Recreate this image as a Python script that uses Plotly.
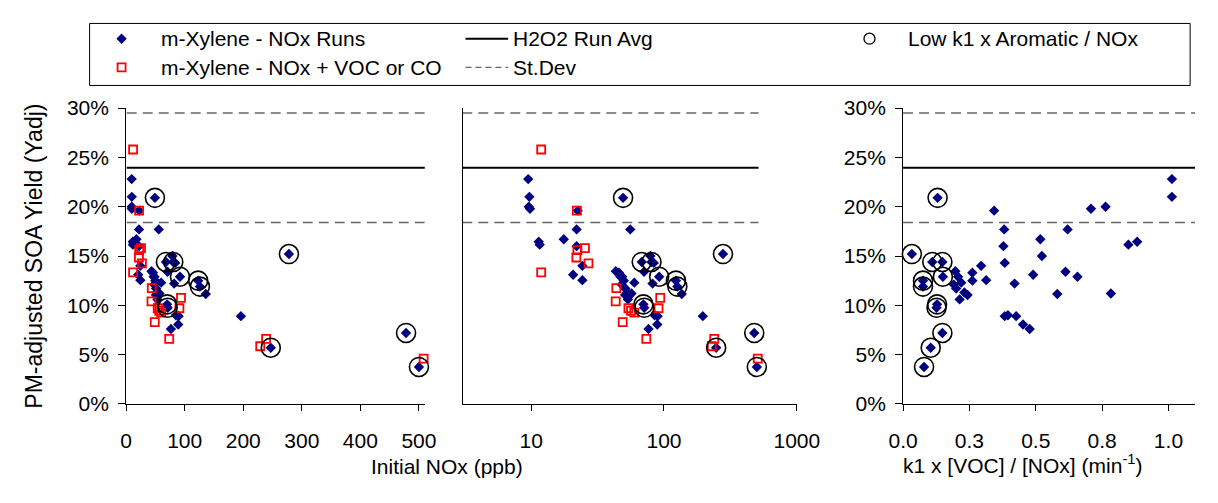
import plotly.graph_objects as go

# ---------------------------------------------------------------------------
# m-Xylene - NOx runs: initial NOx (ppb), PM-adjusted SOA yield (%),
# k1 x [VOC]/[NOx] (min^-1) and whether the run has a low k1 x aromatic/NOx
# ---------------------------------------------------------------------------
run_nox = [9.5, 9.7, 9.6, 9.8, 22.4, 22.0, 55.7, 17.6, 11.4, 11.6, 22.0, 79.0,
           83.8, 24.3, 20.7, 70.8, 24.3, 43.4, 45.8, 47.0, 48.5, 49.9, 47.9, 59.8,
           82.0, 51.2, 52.7, 51.0, 53.5, 136.0, 57.0, 85.0, 89.6, 196.0, 89.0, 76.5,
           49.2, 278.0, 68.0, 80.5, 92.0, 123.0, 126.0, 70.0, 71.0, 247.0, 478.0, 500.0]
run_yield = [22.8, 21.0, 20.0, 19.8, 19.6, 17.7, 17.7, 16.7, 16.45, 16.15, 16.0, 15.0,
             14.3, 14.0, 13.1, 13.4, 12.55, 13.45, 13.3, 12.9, 12.9, 12.5, 12.1, 12.3,
             12.2, 11.7, 11.3, 11.05, 10.6, 11.15, 11.2, 9.0, 8.9, 8.9, 8.05, 7.6,
             20.9, 15.2, 14.4, 14.4, 12.9, 12.5, 11.9, 10.1, 9.75, 5.7, 7.2, 3.75]
run_k1 = [1.013, 1.013, 0.763, 0.708, 0.343, 0.381, 0.620, 0.517, 0.882, 0.849, 0.378, 0.523,
          0.383, 0.294, 0.49, 0.612, 0.313, 0.197, 0.261, 0.207, 0.657, 0.261, 0.191, 0.219,
          0.42, 0.2, 0.231, 0.243, 0.213, 0.581, 0.783, 0.395, 0.383, 0.426, 0.452, 0.477,
          0.13, 0.033, 0.11, 0.148, 0.15, 0.075, 0.075, 0.128, 0.126, 0.104, 0.148, 0.079]
run_low_k1 = [False] * 36 + [True] * 12

# m-Xylene - NOx + VOC or CO runs
added_nox = [11.9, 11.9, 22.1, 25.4, 22.3, 21.9, 27.0, 43.8, 43.3, 54.0, 56.5, 59.8,
             48.9, 73.6, 93.7, 91.0, 239.0, 229.0, 508.0]
added_yield = [25.8, 13.35, 19.6, 15.8, 15.6, 14.85, 14.25, 11.75, 10.4, 9.7, 9.45, 9.25,
               8.3, 6.6, 10.75, 9.7, 6.6, 5.85, 4.6]

# H2O2 reference runs: average yield and standard deviation (%)
h2o2_avg = 23.95
h2o2_sd = 5.55

# Axis ticks
yield_ticks = [0, 5, 10, 15, 20, 25, 30]
lin_nox_ticks = [0, 100, 200, 300, 400, 500]
log_nox_ticks = [10, 100, 1000]
k1_tickvals = [0.0, 0.25, 0.5, 0.75, 1.0]
k1_ticktext = ["0.0", "0.3", "0.5", "0.8", "1.0"]

# Extent of the reference lines in each panel
nox_line_x = [1, 515]
k1_line_x = [0, 1.2]

FONT = "Arial, 'Liberation Sans', sans-serif"
FS = 21
W, H = 1218, 503
NAVY = "#000080"
RED = "#FF0000"
DASH_GREY = "#666666"

low_nox = [x for x, f in zip(run_nox, run_low_k1) if f]
low_yield = [y for y, f in zip(run_yield, run_low_k1) if f]
low_k1 = [k for k, f in zip(run_k1, run_low_k1) if f]

fig = go.Figure()

diamond = dict(symbol="diamond", size=8, color=NAVY)
square = dict(symbol="square-open", size=8, color=RED, line=dict(color=RED, width=1.8))
ring = dict(symbol="circle-open", size=19, color="black", line=dict(color="black", width=1.6))


def add_ref_lines(xs, xa, ya):
    fig.add_trace(go.Scatter(x=xs, y=[h2o2_avg] * 2, mode="lines", xaxis=xa, yaxis=ya,
                             line=dict(color="black", width=2), showlegend=False, hoverinfo="skip"))
    for v in (h2o2_avg + h2o2_sd, h2o2_avg - h2o2_sd):
        fig.add_trace(go.Scatter(x=xs, y=[v] * 2, mode="lines", xaxis=xa, yaxis=ya,
                                 line=dict(color=DASH_GREY, width=1.4, dash="10px,6px"),
                                 showlegend=False, hoverinfo="skip"))


def add_points(x, y, marker, xa, ya):
    fig.add_trace(go.Scatter(x=x, y=y, mode="markers", marker=marker, xaxis=xa, yaxis=ya,
                             showlegend=False, cliponaxis=False))


# Panel 1: yield vs initial NOx (linear)
add_ref_lines(nox_line_x, "x", "y")
add_points(run_nox, run_yield, diamond, "x", "y")
add_points(added_nox, added_yield, square, "x", "y")
add_points(low_nox, low_yield, ring, "x", "y")

# Panel 2: yield vs initial NOx (log)
add_ref_lines(nox_line_x, "x2", "y2")
add_points(run_nox, run_yield, diamond, "x2", "y2")
add_points(added_nox, added_yield, square, "x2", "y2")
add_points(low_nox, low_yield, ring, "x2", "y2")

# Panel 3: yield vs k1 x [VOC]/[NOx]
add_ref_lines(k1_line_x, "x3", "y3")
add_points(run_k1, run_yield, diamond, "x3", "y3")
add_points(low_k1, low_yield, ring, "x3", "y3")

# Legend drawn on a full-page axis measured in pixels
leg_items = [
    ("marker", dict(symbol="diamond", size=8, color=NAVY), 110, 28, "m-Xylene - NOx Runs", 149),
    ("marker", dict(symbol="square-open", size=8, color=RED, line=dict(color=RED, width=1.8)),
     110, 58, "m-Xylene - NOx + VOC or CO", 149),
    ("solid", None, 465, 28, "H2O2 Run Avg", 512),
    ("dash", None, 465, 58, "St.Dev", 512),
    ("marker", dict(symbol="circle-open", size=11, color="black", line=dict(color="black", width=1.3)),
     882, 28, "Low k1 x Aromatic / NOx", 920),
]
annotations = []
for kind, mk, sx, sy, label, tx in leg_items:
    if kind == "marker":
        fig.add_trace(go.Scatter(x=[sx], y=[sy], mode="markers", marker=mk, xaxis="x4", yaxis="y4",
                                 showlegend=False, hoverinfo="skip", cliponaxis=False))
    else:
        line = dict(color="black", width=2) if kind == "solid" else dict(color=DASH_GREY, width=1.4, dash="6px,4px")
        fig.add_trace(go.Scatter(x=[sx, sx + 44], y=[sy, sy], mode="lines", line=line,
                                 xaxis="x4", yaxis="y4", showlegend=False, hoverinfo="skip"))
    annotations.append(dict(x=tx / W, y=1 - sy / H, xref="paper", yref="paper", text=label, showarrow=False,
                            xanchor="left", yanchor="middle", font=dict(family=FONT, size=FS, color="black")))

annotations += [
    dict(x=20 / W, y=1 - 256 / H, xref="paper", yref="paper", text="PM-adjusted SOA Yield (Yadj)",
         textangle=-90, showarrow=False, xanchor="center", yanchor="middle",
         font=dict(family=FONT, size=23, color="black")),
    dict(x=446 / W, y=1 - 476 / H, xref="paper", yref="paper", text="Initial NOx (ppb)",
         showarrow=False, xanchor="center", yanchor="middle", font=dict(family=FONT, size=FS, color="black")),
    dict(x=1040 / W, y=1 - 474 / H, xref="paper", yref="paper",
         text="k1 x [VOC] / [NOx] (min<sup>-1</sup>)",
         showarrow=False, xanchor="center", yanchor="middle", font=dict(family=FONT, size=FS, color="black")),
]

y_dom = [(H - 410.7) / H, (H - 100.7) / H]
tickfont = dict(family=FONT, size=FS, color="black")
common_x = dict(showline=True, linecolor="black", linewidth=1, ticks="outside", ticklen=6,
                tickcolor="black", showgrid=False, zeroline=False, tickfont=tickfont,
                ticklabelstandoff=12)
common_y = dict(range=[0, 30], showline=True, linecolor="black", linewidth=1, showgrid=False,
                zeroline=False, domain=y_dom, tickfont=tickfont)

fig.update_layout(
    width=W, height=H, margin=dict(l=0, r=0, t=0, b=0),
    paper_bgcolor="white", plot_bgcolor="rgba(0,0,0,0)", showlegend=False,
    xaxis=dict(domain=[114.7 / W, 423 / W], range=[0, 510], tickvals=lin_nox_ticks, anchor="y", **common_x),
    xaxis2=dict(domain=[462.3 / W, 807 / W], type="log", range=[0.486, 3], tickvals=log_nox_ticks,
                ticktext=[str(v) for v in log_nox_ticks], anchor="y2", **common_x),
    xaxis3=dict(domain=[916.7 / W, 1.0], range=[0, 1.1], tickvals=k1_tickvals, ticktext=k1_ticktext,
                anchor="y3", **common_x),
    yaxis=dict(anchor="x", tickvals=yield_ticks, ticktext=[f"{v}%" for v in yield_ticks],
               ticks="outside", ticklen=7, tickcolor="black", ticklabelstandoff=5, **common_y),
    yaxis2=dict(anchor="x2", showticklabels=False, ticks="", **common_y),
    yaxis3=dict(anchor="x3", tickvals=yield_ticks, ticktext=[f"{v}%" for v in yield_ticks],
                ticks="outside", ticklen=7, tickcolor="black", ticklabelstandoff=5, **common_y),
    xaxis4=dict(domain=[0, 1], range=[0, W], visible=False, anchor="y4"),
    yaxis4=dict(domain=[0, 1], range=[H, 0], visible=False, anchor="x4"),
    annotations=annotations,
    shapes=[dict(type="rect", xref="paper", yref="paper", x0=77 / W, x1=1213 / W,
                 y0=1 - 77 / H, y1=1 - 12 / H, line=dict(color="black", width=1), fillcolor="rgba(0,0,0,0)")],
)

fig.write_html("out.html")
